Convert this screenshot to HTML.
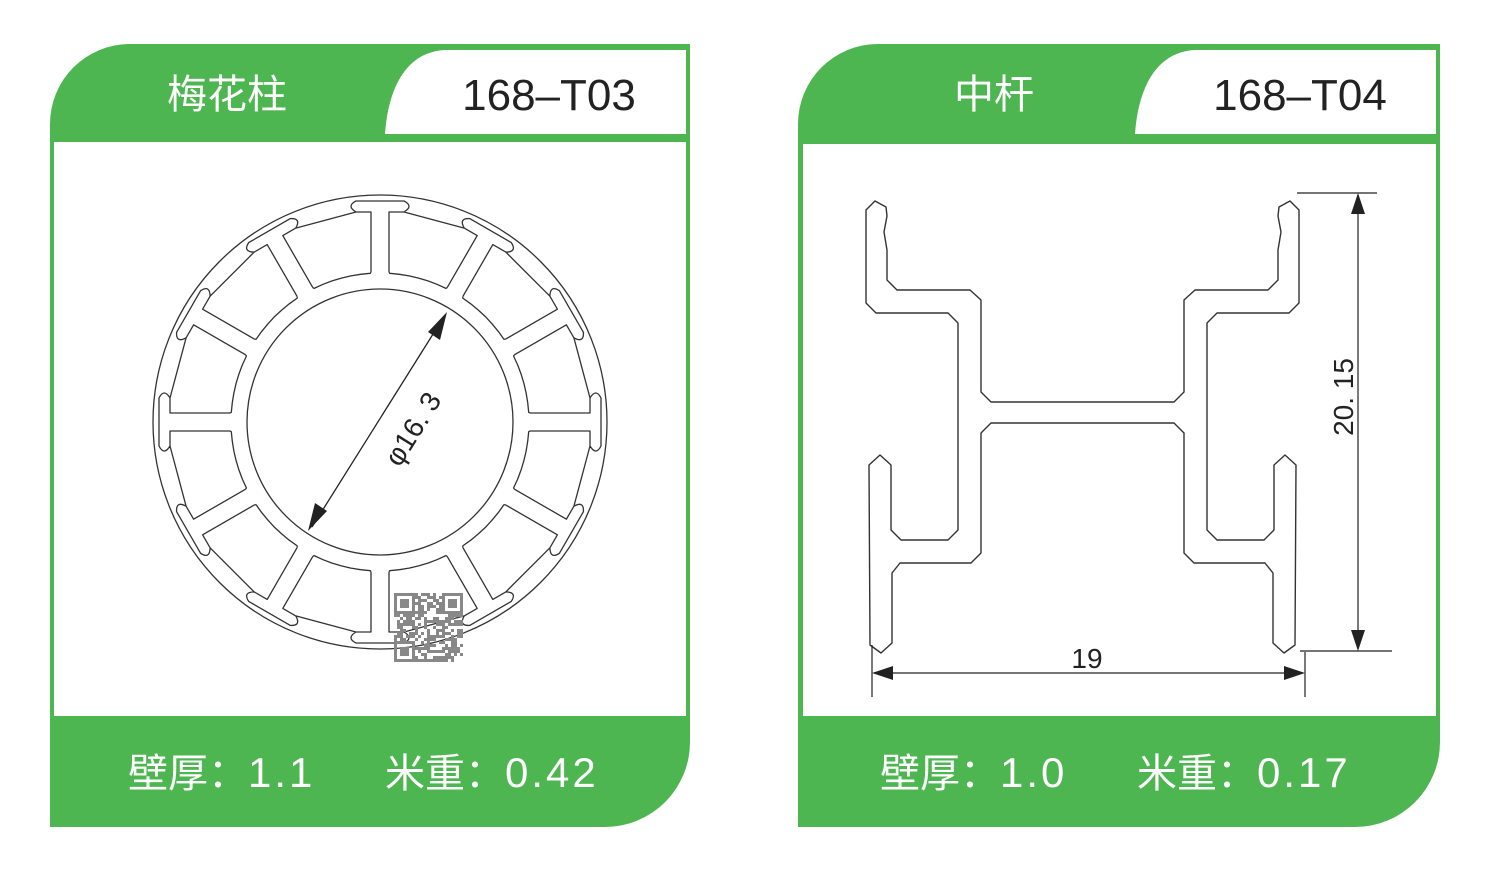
<!DOCTYPE html>
<html><head><meta charset="utf-8"><style>
html,body{margin:0;padding:0;background:#fff;width:1500px;height:870px;overflow:hidden}
svg{display:block}
.cn{font-family:"Liberation Sans","Noto Sans CJK SC",sans-serif}
</style></head><body>
<svg id="s" width="1500" height="870" viewBox="0 0 1500 870" xmlns="http://www.w3.org/2000/svg">
<!-- left card -->
<path d="M50,124 A80,80 0 0 1 130,44 H690 V742 A85,85 0 0 1 605,827 H50 Z" fill="#4db651"/>
<path d="M385,134 C388,90 405,52 445,50 H686 V134 Z" fill="#fff"/>
<rect x="54" y="142" width="632" height="574" fill="#fff"/>
<text x="227" y="108" class="cn" font-size="40" fill="#fff" text-anchor="middle">梅花柱</text>
<text x="549" y="110" font-family="Liberation Sans,sans-serif" font-size="44" fill="#222" text-anchor="middle">168–T03</text>
<text x="128" y="787" class="cn" font-size="40" fill="#fff">壁厚：<tspan font-size="42" letter-spacing="3">1.1</tspan></text>
<text x="385" y="787" class="cn" font-size="40" fill="#fff">米重：<tspan font-size="42" letter-spacing="3">0.42</tspan></text>
<!-- right card -->
<path d="M798,124 A80,80 0 0 1 878,44 H1440 V742 A85,85 0 0 1 1355,827 H798 Z" fill="#4db651"/>
<path d="M1135,134 C1138,90 1155,52 1195,50 H1436 V134 Z" fill="#fff"/>
<rect x="803" y="144" width="633" height="572" fill="#fff"/>
<text x="994" y="108" class="cn" font-size="40" fill="#fff" text-anchor="middle">中杆</text>
<text x="1300" y="110" font-family="Liberation Sans,sans-serif" font-size="44" fill="#222" text-anchor="middle">168–T04</text>
<text x="880" y="787" class="cn" font-size="40" fill="#fff">壁厚：<tspan font-size="42" letter-spacing="3">1.0</tspan></text>
<text x="1137" y="787" class="cn" font-size="40" fill="#fff">米重：<tspan font-size="42" letter-spacing="3">0.17</tspan></text>

<!-- circle profile -->
<g id="circ" fill="none" stroke="#333" stroke-width="1.3" stroke-linejoin="round">
<circle cx="380" cy="422" r="227"/>
<circle cx="380" cy="422" r="133"/>
</g>
<g id="qr"></g>
<!-- dimension phi -->
<line x1="312" y1="527" x2="445" y2="315" stroke="#222" stroke-width="1.3"/>
<polygon points="447,312 440,340 428,332" fill="#222"/>
<polygon points="308,531 315,503 327,511" fill="#222"/>
<text x="0" y="0" transform="translate(421,434) rotate(-58)" font-family="Liberation Sans,sans-serif" font-size="28" fill="#222" text-anchor="middle">φ16. 3</text>

<!-- H profile -->
<path id="hp" fill="none" stroke="#333" stroke-width="1.4" stroke-linejoin="round"/>
<g stroke="#222" stroke-width="1.2">
<line x1="1297" y1="193" x2="1377" y2="193"/>
<line x1="1300" y1="651" x2="1392" y2="651"/>
<line x1="1358" y1="195" x2="1358" y2="649"/>
<line x1="872" y1="645" x2="872" y2="697"/>
<line x1="1305" y1="652" x2="1305" y2="697"/>
<line x1="874" y1="673" x2="1303" y2="673"/>
</g>
<polygon points="1358,193 1351,214 1365,214" fill="#222"/>
<polygon points="1358,651 1351,630 1365,630" fill="#222"/>
<polygon points="872,673 893,666 893,680" fill="#222"/>
<polygon points="1305,673 1284,666 1284,680" fill="#222"/>
<text transform="translate(1353,397) rotate(-90)" font-family="Liberation Sans,sans-serif" font-size="28" fill="#222" text-anchor="middle">20. 15</text>
<text x="1087" y="668" font-family="Liberation Sans,sans-serif" font-size="28" fill="#222" text-anchor="middle">19</text>
</svg>
<script>
(function(){
var NS="http://www.w3.org/2000/svg",cx=380,cy=422;
var g=document.getElementById("circ");
function P(a,r,v){var t=a*Math.PI/180;var ux=Math.sin(t),uy=-Math.cos(t),vx=Math.cos(t),vy=Math.sin(t);return (cx+r*ux+v*vx).toFixed(1)+","+(cy+r*uy+v*vy).toFixed(1);}
var d="";
for(var k=0;k<12;k++){
 var A=k*30,B=A+30;
 d+="M"+P(A,150,-9)+" L"+P(A,210,-9)+" L"+P(A,210,-24)+" Q"+P(A,216,-34)+" "+P(A,221,-24)+" L"+P(A,221,24)+" Q"+P(A,216,34)+" "+P(A,210,24)+" L"+P(A,210,9)+" L"+P(A,150,9)+" ";
 d+="M"+P(A,210,24)+" L"+P(B,210,-24)+" ";
 d+="M"+P(A,150,9);
 for(var i=1;i<=8;i++){var a=A+(B-A)*i/8; if(i<8) d+=" L"+P(a,149,0); else d+=" L"+P(B,150,-9);}
 d+=" ";
}
var p=document.createElementNS(NS,"path");p.setAttribute("d",d);g.appendChild(p);
// QR
var q=document.getElementById("qr"),s="",seed=7;
function rnd(){seed=(seed*9301+49297)%233280;return seed/233280;}
var x0=394,y0=593,n=23,c=3;
for(var r=0;r<n;r++)for(var cc=0;cc<n;cc++){
 var inF=(r<7&&cc<7)||(r<7&&cc>=n-7)||(r>=n-7&&cc<7);
 var on;
 if(inF){var rr=r>=n-7?r-(n-7):r,c2=cc>=n-7?cc-(n-7):cc;on=(rr==0||rr==6||c2==0||c2==6||(rr>=2&&rr<=4&&c2>=2&&c2<=4));}
 else on=rnd()<0.5;
 if(on) s+='<rect x="'+(x0+cc*c)+'" y="'+(y0+r*c)+'" width="'+c+'" height="'+c+'" fill="#888"/>';
}
q.innerHTML=s;
// H profile
var L=[[875,201],[886,207],[887,216],[884,232],[887,250],[887,280],[897,290],[970,290],[981,300],[981,392],[991,402]];
var R=[[991,423],[981,433],[981,553],[971,563],[900,563],[892,573],[892,643],[881,653],[870,645],[869,465],[880,455],[891,465],[891,530],[901,540],[948,540],[958,530],[958,323],[948,313],[876,313],[866,303],[866,210],[875,201]];
function M(pt){return [2165-pt[0],pt[1]];}
var pts=L.slice();
pts=pts.concat(L.slice().reverse().map(M));
pts=pts.concat(R.slice().reverse().map(M).slice(1));
pts=pts.concat(R.slice(0));
var hd="M"+pts.map(function(p){return p[0]+","+p[1];}).join(" L")+" Z";
document.getElementById("hp").setAttribute("d",hd);
})();
</script>
</body></html>
